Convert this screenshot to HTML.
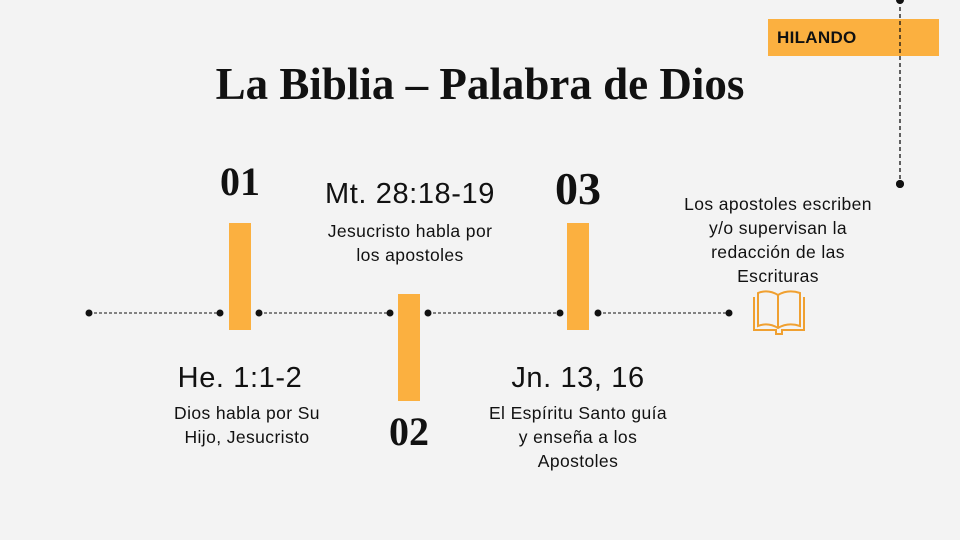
<!DOCTYPE html>
<html><head><meta charset="utf-8"><style>
body{margin:0;width:960px;height:540px;background:#f3f3f3;position:relative;overflow:hidden;font-family:"Liberation Sans",sans-serif;color:#111}
.a{position:absolute}
.t{text-align:center;white-space:nowrap}
.bar{position:absolute;background:#fbb040;width:22px;height:107px}
.num{font-family:"Liberation Serif",serif;font-weight:bold;font-size:40px;text-align:center;width:100px}
.ref{font-size:29px;letter-spacing:0.6px;width:260px}
.desc{font-size:17.5px;letter-spacing:0.4px;line-height:24px;width:260px}
</style></head><body>
<svg class="a" style="left:0;top:0" width="960" height="540">
<g stroke="#111" stroke-width="1" stroke-dasharray="3,2">
<line x1="89" y1="313" x2="220" y2="313"/>
<line x1="259" y1="313" x2="390" y2="313"/>
<line x1="428" y1="313" x2="560" y2="313"/>
<line x1="598" y1="313" x2="729" y2="313"/>
</g>
<g fill="#111"><circle cx="89" cy="313" r="3.5"/><circle cx="220" cy="313" r="3.5"/><circle cx="259" cy="313" r="3.5"/><circle cx="390" cy="313" r="3.5"/><circle cx="428" cy="313" r="3.5"/><circle cx="560" cy="313" r="3.5"/><circle cx="598" cy="313" r="3.5"/><circle cx="729" cy="313" r="3.5"/><circle cx="900" cy="184" r="4"/></g>
<g fill="none" stroke="#f0a030" stroke-width="2">
<path d="M754 297 v33 h22 v4 h6 v-4 h22 v-33"/>
<path d="M758 293 v33 q10 -4 20 2 q10 -6 22 -2 v-33 q-12 -4 -22 2 q-10 -6 -20 -2z"/>
<line x1="778" y1="295" x2="778" y2="328"/>
</g>
</svg>
<div class="a" style="left:768px;top:19px;width:171px;height:37px;background:#fbb040"></div>
<svg class="a" style="left:0;top:0" width="960" height="190"><line x1="900" y1="0" x2="900" y2="184" stroke="#111" stroke-width="1.3" stroke-dasharray="4,3"/><circle cx="900" cy="0" r="4" fill="#111"/><circle cx="900" cy="184" r="4" fill="#111"/></svg>
<div class="a" style="left:777px;top:28px;font-weight:bold;font-size:17px;letter-spacing:0.3px">HILANDO</div>
<div class="a t" style="left:0;width:960px;top:58px;font-family:'Liberation Serif',serif;font-weight:bold;font-size:45px">La Biblia – Palabra de Dios</div>
<div class="bar" style="left:229px;top:223px"></div>
<div class="bar" style="left:398px;top:294px"></div>
<div class="bar" style="left:567px;top:223px"></div>
<div class="a num" style="left:190px;top:158px">01</div>
<div class="a num" style="left:359px;top:408px">02</div>
<div class="a num" style="left:528px;top:162px;font-size:46px">03</div>
<div class="a t ref" style="left:280px;top:178px">Mt. 28:18-19</div>
<div class="a t desc" style="left:280px;top:219px">Jesucristo habla por<br>los apostoles</div>
<div class="a t ref" style="left:110px;top:362px">He. 1:1-2</div>
<div class="a t desc" style="left:117px;top:401px">Dios habla por Su<br>Hijo, Jesucristo</div>
<div class="a t ref" style="left:448px;top:362px">Jn. 13, 16</div>
<div class="a t desc" style="left:448px;top:401px">El Espíritu Santo guía<br>y enseña a los<br>Apostoles</div>
<div class="a t desc" style="left:648px;top:192px">Los apostoles escriben<br>y/o supervisan la<br>redacción de las<br>Escrituras</div>
</body></html>
